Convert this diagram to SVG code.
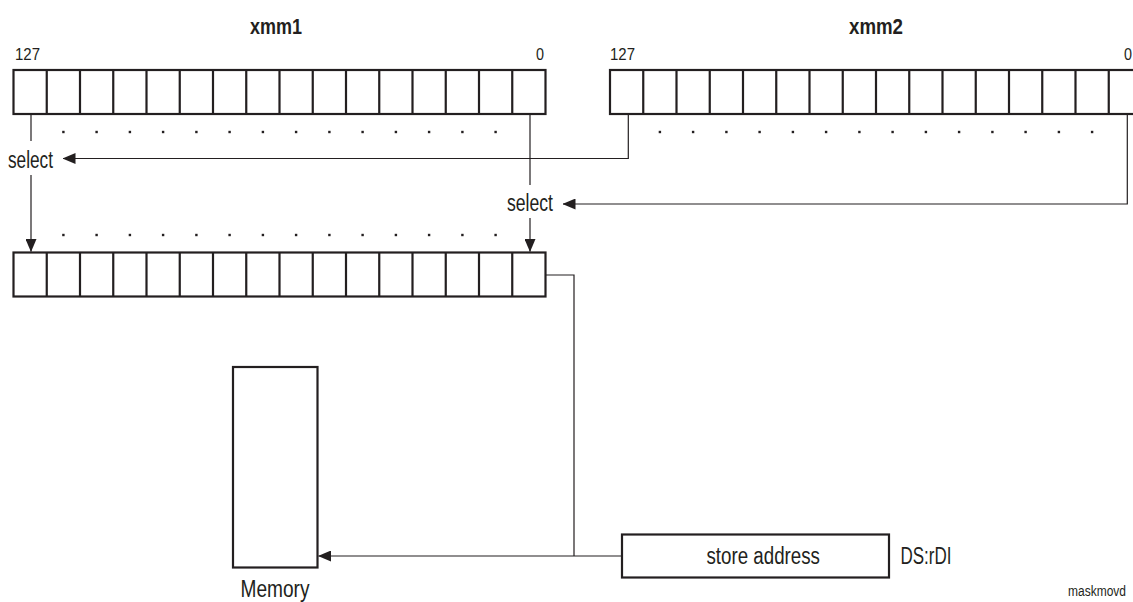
<svg xmlns="http://www.w3.org/2000/svg" xmlns:xlink="http://www.w3.org/1999/xlink" width="1133" height="602" viewBox="0 0 1133 602">
<style>
.box{fill:#fff;stroke:#231f20;stroke-width:2.2}
.div{stroke:#231f20;stroke-width:2.2;fill:none}
.ln{stroke:#231f20;stroke-width:1.2;fill:none}
.dot{fill:#231f20}
.t{font-family:"Liberation Sans",Arial,sans-serif;fill:#231f20}
.lbl{font-size:23px}
.num{font-size:17px}
.ttl{font-size:22px;font-weight:bold}
.sm{font-size:14px}
</style>
<defs>
<marker id="ah" markerUnits="userSpaceOnUse" markerWidth="13" markerHeight="11" refX="12.5" refY="5.5" orient="auto" viewBox="0 0 13 11">
<path d="M0,0 L13,5.5 L0,11 z" fill="#231f20"/>
</marker>
<g id="reg">
<rect class="box" x="0" y="0" width="532" height="44"/>
<path class="div" d="M33.25,0V44M66.5,0V44M99.75,0V44M133,0V44M166.25,0V44M199.5,0V44M232.75,0V44M266,0V44M299.25,0V44M332.5,0V44M365.75,0V44M399,0V44M432.25,0V44M465.5,0V44M498.75,0V44"/>
</g>
<g id="dots">
<rect class="dot" x="48.7" y="-1.2" width="2.4" height="2.4"/>
<rect class="dot" x="81.9" y="-1.2" width="2.4" height="2.4"/>
<rect class="dot" x="115.2" y="-1.2" width="2.4" height="2.4"/>
<rect class="dot" x="148.4" y="-1.2" width="2.4" height="2.4"/>
<rect class="dot" x="181.7" y="-1.2" width="2.4" height="2.4"/>
<rect class="dot" x="214.9" y="-1.2" width="2.4" height="2.4"/>
<rect class="dot" x="248.2" y="-1.2" width="2.4" height="2.4"/>
<rect class="dot" x="281.4" y="-1.2" width="2.4" height="2.4"/>
<rect class="dot" x="314.7" y="-1.2" width="2.4" height="2.4"/>
<rect class="dot" x="347.9" y="-1.2" width="2.4" height="2.4"/>
<rect class="dot" x="381.2" y="-1.2" width="2.4" height="2.4"/>
<rect class="dot" x="414.4" y="-1.2" width="2.4" height="2.4"/>
<rect class="dot" x="447.7" y="-1.2" width="2.4" height="2.4"/>
<rect class="dot" x="480.9" y="-1.2" width="2.4" height="2.4"/>
</g>
</defs>
<rect width="1133" height="602" fill="#fff"/>

<g id="connectors">
<path class="ln" d="M628.3,114V158.5H63" marker-end="url(#ah)"/>
<path class="ln" d="M31,114V141"/>
<path class="ln" d="M31,175V251.5" marker-end="url(#ah)"/>
<path class="ln" d="M530,114V185"/>
<path class="ln" d="M530,218V251.5" marker-end="url(#ah)"/>
<path class="ln" d="M1127.3,114V204H563" marker-end="url(#ah)"/>
<path class="ln" d="M545.5,275H574V556"/>
<path class="ln" d="M622,556H318.5" marker-end="url(#ah)"/>
</g>

<g id="xmm1">
<text class="t ttl" x="250" y="34" textLength="52" lengthAdjust="spacingAndGlyphs">xmm1</text>
<text class="t num" x="15" y="60" textLength="25" lengthAdjust="spacingAndGlyphs">127</text>
<text class="t num" x="536" y="60" textLength="8" lengthAdjust="spacingAndGlyphs">0</text>
<use xlink:href="#reg" x="13.5" y="70"/>
<use xlink:href="#dots" x="13.5" y="132"/>
</g>

<g id="xmm2">
<text class="t ttl" x="849" y="34" textLength="54" lengthAdjust="spacingAndGlyphs">xmm2</text>
<text class="t num" x="610" y="60" textLength="25" lengthAdjust="spacingAndGlyphs">127</text>
<text class="t num" x="1124" y="60" textLength="8" lengthAdjust="spacingAndGlyphs">0</text>
<use xlink:href="#reg" x="610" y="70"/>
<use xlink:href="#dots" x="610" y="132"/>
</g>

<g id="select-left">
<text class="t lbl" x="8" y="168" textLength="45" lengthAdjust="spacingAndGlyphs">select</text>
</g>

<g id="select-right">
<text class="t lbl" x="507" y="211" textLength="46" lengthAdjust="spacingAndGlyphs">select</text>
</g>

<g id="result">
<use xlink:href="#reg" x="13.5" y="252.5"/>
<use xlink:href="#dots" x="13.5" y="235"/>
</g>

<g id="memory">
<rect class="box" x="233" y="367" width="84.5" height="200.5"/>
<text class="t lbl" x="240.5" y="597" textLength="69" lengthAdjust="spacingAndGlyphs">Memory</text>
</g>

<g id="store-address">
<rect class="box" x="622" y="534.5" width="267" height="43"/>
<text class="t lbl" x="706.5" y="564" textLength="113.5" lengthAdjust="spacingAndGlyphs">store address</text>
<text class="t lbl" x="900.5" y="564" textLength="51" lengthAdjust="spacingAndGlyphs">DS:rDI</text>
</g>

<g id="caption">
<text class="t sm" x="1068" y="596" textLength="58" lengthAdjust="spacingAndGlyphs">maskmovd</text>
</g>
</svg>
